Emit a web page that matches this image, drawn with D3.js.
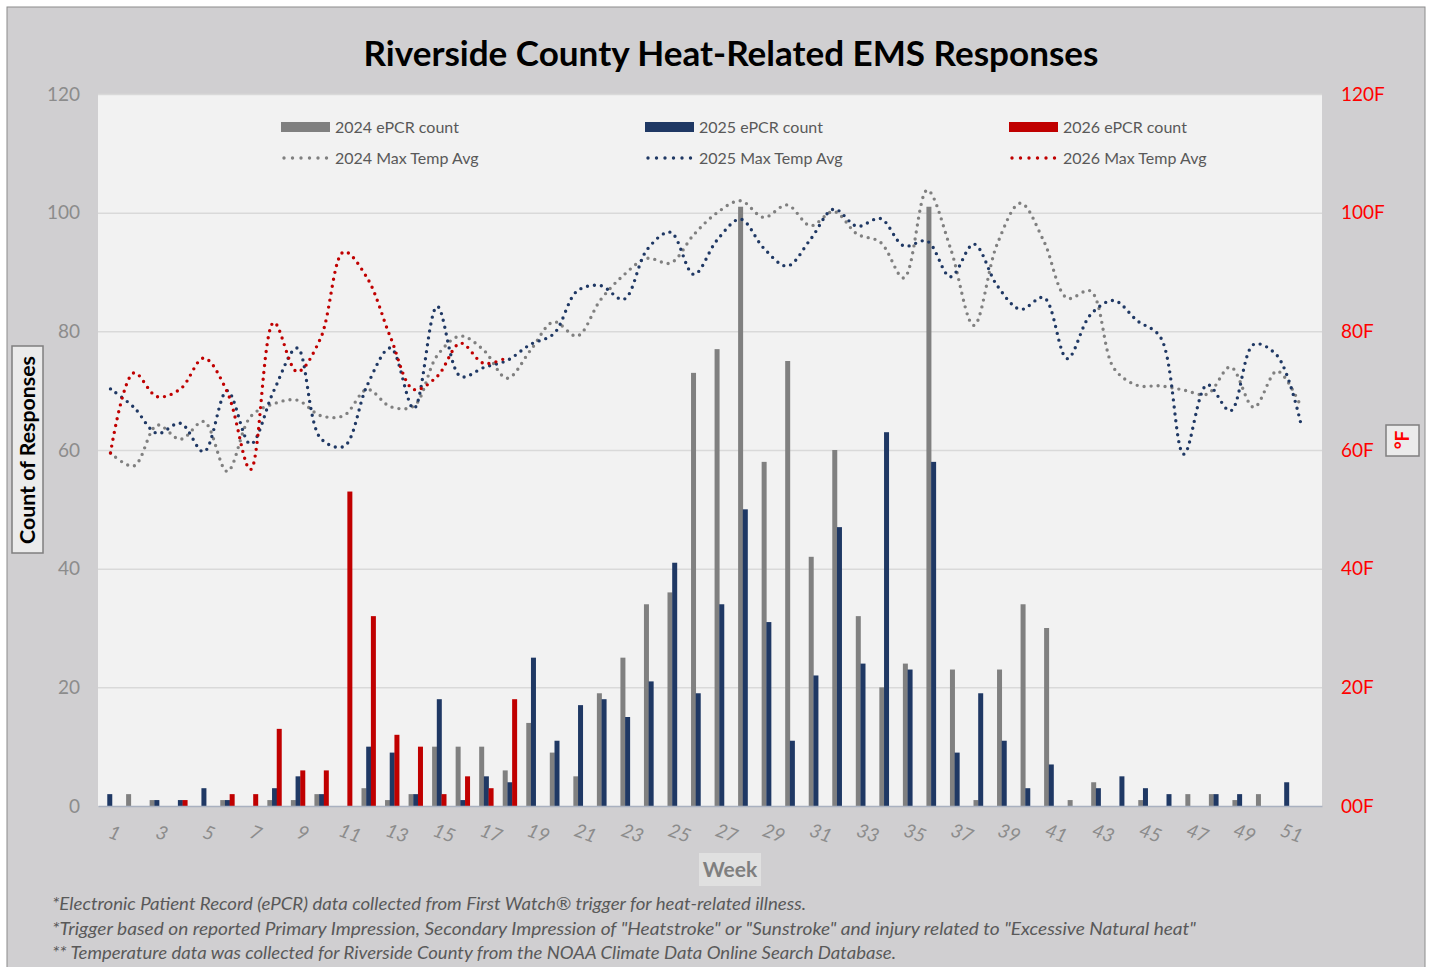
<!DOCTYPE html>
<html>
<head>
<meta charset="utf-8">
<script src="https://cdn.jsdelivr.net/npm/d3@7"></script>
<style>
  body { margin: 0; background: #fff; }
  text { font-family: Lato, "Open Sans", sans-serif; }
</style>
</head>
<body>
<svg id="chart"></svg>
<script>
// weekly categories and tick labels
const weeks = d3.range(1, 53)
const weekLabels = d3.range(1, 52, 2)
const yTicks = [0, 20, 40, 60, 80, 100, 120]
const tempTickLabels = ['00F', '20F', '40F', '60F', '80F', '100F', '120F']

// ePCR counts per week
const count2024 = [0, 2, 1, 0, 0, 1, 0, 1, 1, 2, 0, 3, 1, 2, 10, 10, 10, 6, 14, 9, 5, 19, 25, 34, 36, 73,
  77, 101, 58, 75, 42, 60, 32, 20, 24, 101, 23, 1, 23, 34, 30, 1, 4, 0, 1, 0, 2, 2, 1, 2, 0, 0]
const count2025 = [2, 0, 1, 1, 3, 1, 0, 3, 5, 2, 0, 10, 9, 2, 18, 1, 5, 4, 25, 11, 17, 18, 15, 21, 41, 19,
  34, 50, 31, 11, 22, 47, 24, 63, 23, 58, 9, 19, 11, 3, 7, 0, 3, 5, 3, 2, 0, 2, 2, 0, 4, 0]
const count2026 = [0, 0, 0, 1, 0, 2, 2, 13, 6, 6, 53, 32, 12, 10, 2, 5, 3, 18]

// weekly max temperature averages (F)
const temp2024 = [59.5, 57.3, 64.2, 61.8, 64.8, 56.4, 65.6, 67.8, 68.4, 65.8, 65.8, 70.2, 67.3, 67.4, 75.9,
  79.2, 76.8, 72.1, 76.8, 81.6, 79.2, 85.3, 89.5, 92.3, 91.5, 96.3, 100, 102, 99.2, 101.3, 97.8, 100.2,
  96.4, 95, 89, 103.8, 94, 81, 94.7, 101.6, 95.2, 85.6, 86.8, 73.8, 70.9, 70.8, 70.1, 69.4, 74, 67.2, 73.3, 67.5]
const temp2025 = [70.3, 67.2, 62.8, 64.5, 59.7, 70, 61, 70, 77.2, 62, 60.6, 70.9, 77.2, 67, 84.2, 72.4,
  73.9, 75.1, 77.8, 79.6, 86.8, 87.7, 85.4, 93.8, 96.7, 89.6, 95.4, 98.9, 94, 91, 95.5, 100.6, 97.7, 99,
  94.4, 95.2, 89.2, 94.7, 87.7, 83.7, 85.7, 75.4, 82.8, 85.2, 81.8, 79, 59.3, 71, 66.6, 77.8, 75.9, 64.7]
const temp2026 = [59.5, 73, 69, 70.3, 75.5, 69.8, 56.7, 81.5, 73.2, 78.8, 93.4, 89, 79, 70.2, 72.4, 78, 74.6, 75.6]

const series = [
  { year: '2024', counts: count2024, temps: temp2024, color: '#808080' },
  { year: '2025', counts: count2025, temps: temp2025, color: '#1f3864' },
  { year: '2026', counts: count2026, temps: temp2026, color: '#c00000' }
]

const W = 1429, H = 967
const plot = { left: 98, right: 1322, top: 94, bottom: 806 }

const svg = d3.select('#chart').attr('width', W).attr('height', H)

// chart background
svg.append('rect')
  .attr('x', 7).attr('y', 7).attr('width', 1418).attr('height', 966)
  .attr('fill', '#d0cfd1').attr('stroke', '#8c8c8c')

svg.append('rect')
  .attr('x', plot.left).attr('y', plot.top)
  .attr('width', plot.right - plot.left).attr('height', plot.bottom - plot.top)
  .attr('fill', '#f2f2f2')

svg.append('text')
  .attr('x', 731).attr('y', 66)
  .attr('text-anchor', 'middle')
  .attr('textLength', 735).attr('lengthAdjust', 'spacingAndGlyphs')
  .style('font-size', '34px').style('font-weight', 'bold').style('fill', '#000')
  .text('Riverside County Heat-Related EMS Responses')

const x = d3.scaleBand().domain(weeks).range([plot.left, plot.right])
const xs = d3.scalePoint().domain(series.map(d => d.year)).range([-4.7, 4.7])
const xl = d3.scalePoint().domain(weeks).range([110.5, 1300.5])
const y = d3.scaleLinear().domain([0, 120]).range([plot.bottom, plot.top])
const yR = d3.scaleLinear().domain([0, 120]).range([plot.bottom, plot.top])

// gridlines
svg.append('g')
  .attr('transform', `translate(${plot.left},0)`)
  .call(d3.axisLeft(y).tickValues(yTicks.slice(1)).tickSize(-(plot.right - plot.left)).tickFormat(''))
  .call(g => g.select('.domain').remove())
  .call(g => g.selectAll('line').attr('stroke', '#d9d9d9').attr('stroke-width', 1.5))

// left axis
svg.append('g')
  .attr('transform', `translate(${plot.left},0)`)
  .call(d3.axisLeft(y).tickValues(yTicks).tickSize(0).tickPadding(18))
  .call(g => g.select('.domain').remove())
  .call(g => g.selectAll('text').style('font-size', '19px').style('fill', '#8c8c8c'))

// right axis
svg.append('g')
  .attr('transform', `translate(${plot.right},0)`)
  .call(d3.axisRight(yR).tickValues(yTicks).tickSize(0).tickPadding(19)
    .tickFormat((d, i) => tempTickLabels[i]))
  .call(g => g.select('.domain').remove())
  .call(g => g.selectAll('text').style('font-size', '19px').style('fill', '#ff0000'))

// bars
const bw = 5
series.forEach(s => {
  svg.append('g').selectAll('rect')
    .data(s.counts.map((v, i) => ({ week: weeks[i], v })).filter(d => d.v > 0))
    .join('rect')
    .attr('x', d => x(d.week) + x.bandwidth() / 2 + xs(s.year) - bw / 2)
    .attr('y', d => y(d.v))
    .attr('width', bw)
    .attr('height', d => y(0) - y(d.v))
    .attr('fill', s.color)
})

// bottom axis
svg.append('g')
  .attr('transform', `translate(0,${plot.bottom})`)
  .call(d3.axisBottom(x).tickValues(weekLabels).tickSize(0))
  .call(g => g.select('.domain').attr('stroke', '#a9b1c0').attr('stroke-width', 1.5))
  .call(g => g.selectAll('text')
    .attr('y', 0).attr('dy', '0.35em')
    .attr('transform', 'translate(5,27) rotate(20)')
    .attr('text-anchor', 'middle')
    .style('font-size', '19px').style('font-style', 'italic').style('fill', '#8c8c8c'))

// temperature lines
const line = d3.line()
  .x((d, i) => xl(weeks[i]))
  .y(d => yR(d))
  .curve(d3.curveCatmullRom.alpha(0.5))

series.forEach(s => {
  svg.append('path')
    .datum(s.temps)
    .attr('d', line)
    .attr('fill', 'none')
    .attr('stroke', s.color)
    .attr('stroke-width', 3.4)
    .attr('stroke-linecap', 'round')
    .attr('stroke-dasharray', '0 7')
})

// legend
const legendX = [281, 645, 1009]
series.forEach((s, i) => {
  const g = svg.append('g').attr('transform', `translate(${legendX[i]},0)`)
  g.append('rect').attr('x', 0).attr('y', 122).attr('width', 49).attr('height', 10).attr('fill', s.color)
  g.append('text').attr('x', 54).attr('y', 133)
    .style('font-size', '16px').style('fill', '#595959')
    .text(`${s.year} ePCR count`)
  g.append('line').attr('x1', 3).attr('x2', 46).attr('y1', 158).attr('y2', 158)
    .attr('stroke', s.color).attr('stroke-width', 3.4)
    .attr('stroke-linecap', 'round').attr('stroke-dasharray', '0 8.5')
  g.append('text').attr('x', 54).attr('y', 164)
    .style('font-size', '16px').style('fill', '#595959')
    .text(`${s.year} Max Temp Avg`)
})

// axis titles
svg.append('rect').attr('x', 12).attr('y', 346).attr('width', 31).attr('height', 207)
  .attr('fill', '#ebebeb').attr('stroke', '#7f7f7f').attr('stroke-width', 1.5)
svg.append('text')
  .attr('transform', 'translate(35,450) rotate(-90)')
  .attr('text-anchor', 'middle')
  .attr('textLength', 188).attr('lengthAdjust', 'spacingAndGlyphs')
  .style('font-size', '20px').style('font-weight', 'bold').style('fill', '#000')
  .text('Count of Responses')

svg.append('rect').attr('x', 1386).attr('y', 425).attr('width', 33).attr('height', 31)
  .attr('fill', '#ebebeb').attr('stroke', '#7f7f7f').attr('stroke-width', 1.5)
svg.append('text')
  .attr('transform', 'translate(1409,440) rotate(-90)')
  .attr('text-anchor', 'middle')
  .style('font-size', '19px').style('font-weight', 'bold').style('fill', '#ff0000')
  .text('°F')

svg.append('rect').attr('x', 699).attr('y', 853).attr('width', 62).attr('height', 33)
  .attr('fill', '#e0e0e0')
svg.append('text')
  .attr('x', 730).attr('y', 877)
  .attr('text-anchor', 'middle')
  .style('font-size', '21px').style('font-weight', 'bold').style('fill', '#7f7f7f')
  .text('Week')

// footnotes
const notes = [
  { t: '*Electronic Patient Record (ePCR) data collected from First Watch® trigger for heat-related illness.', w: 754 },
  { t: '*Trigger based on reported Primary Impression, Secondary Impression of "Heatstroke" or "Sunstroke" and injury related to "Excessive Natural heat"', w: 1144 },
  { t: '** Temperature data was collected for Riverside County from the NOAA Climate Data Online Search Database.', w: 844 }
]
svg.append('g').selectAll('text')
  .data(notes)
  .join('text')
  .attr('x', 52)
  .attr('y', (d, i) => 910 + i * 24.5)
  .attr('textLength', d => d.w).attr('lengthAdjust', 'spacingAndGlyphs')
  .style('font-size', '17px').style('font-style', 'italic').style('fill', '#595959')
  .text(d => d.t)
</script>
</body>
</html>
